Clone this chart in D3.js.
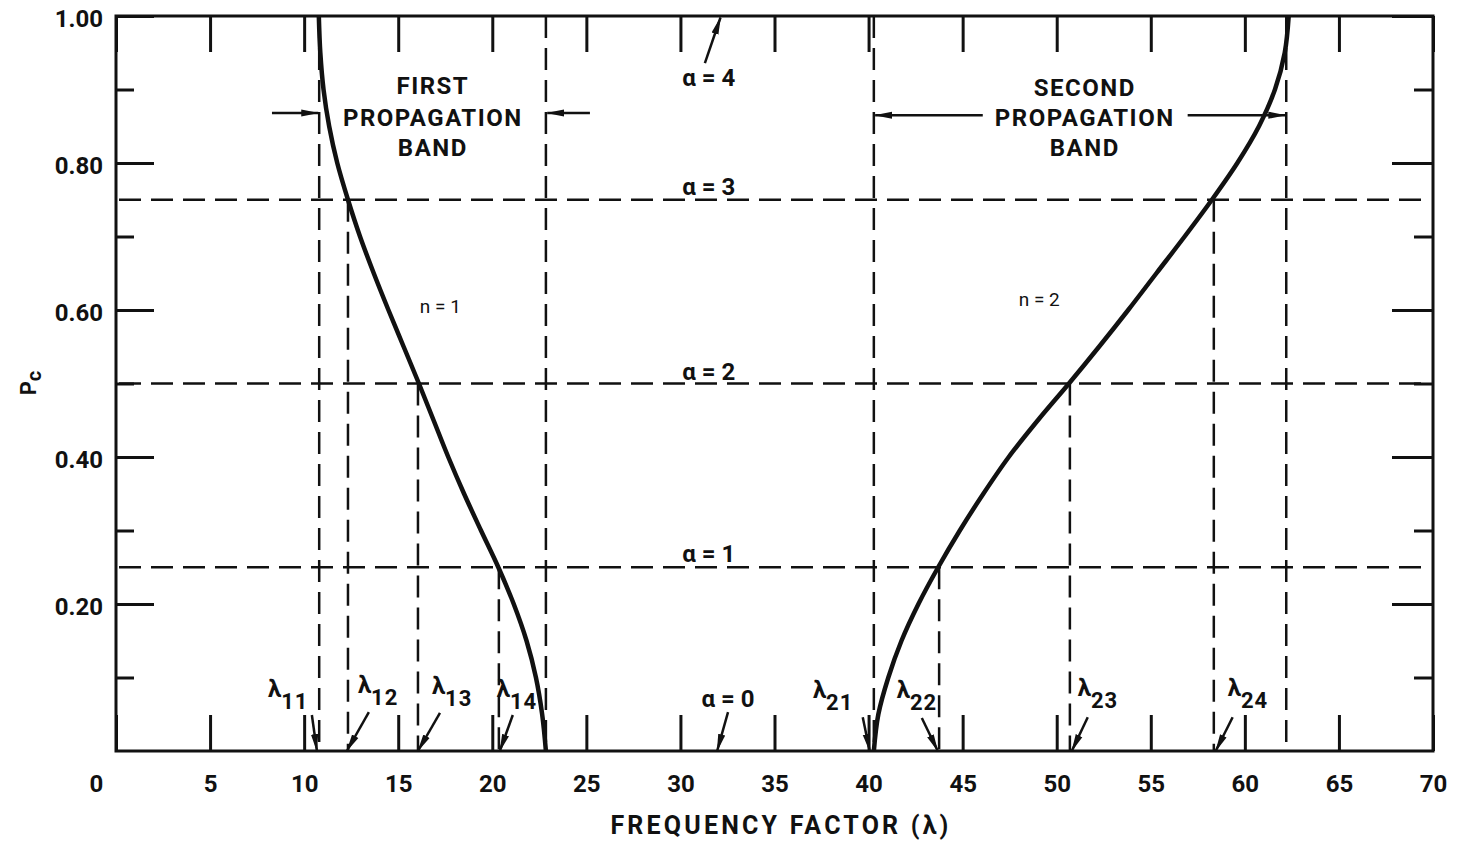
<!DOCTYPE html>
<html><head><meta charset="utf-8">
<script src="https://cdn.jsdelivr.net/npm/d3@7"></script>
<style>body{margin:0;background:#fff} svg{display:block}</style>
</head><body>
<svg id="chart" width="1461" height="843"></svg>
<script>
// ---------------- data ----------------
const xTickValues = [0,5,10,15,20,25,30,35,40,45,50,55,60,65,70];
const yMajorTicks = [0.2,0.4,0.6,0.8,1.0];
const yMinorTicks = [0.1,0.3,0.5,0.7,0.9];
const yTickLabels = ["0.20","0.40","0.60","0.80","1.00"];

const alphaLevels = [0.25,0.5,0.75];           // horizontal dashed lines
const alphaNames  = ["α = 0","α = 1","α = 2","α = 3","α = 4"];

const bandLambdas = [10.8,12.33,16.05,20.35,22.85,40.28,43.75,50.7,58.35,62.2];
const bandTops    = [1,0.75,0.5,0.25,1,1,0.25,0.5,0.75,1];

const n1Pc     = [1.00,0.95,0.90,0.85,0.80,0.75,0.70,0.65,0.60,0.55,0.50,0.45,0.40,0.35,0.30,0.25,0.20,0.15,0.10,0.05,0.00];
const n1Lambda = [10.78,10.86,11.03,11.33,11.76,12.33,12.97,13.7,14.48,15.29,16.1,16.88,17.66,18.5,19.4,20.32,21.14,21.82,22.32,22.65,22.85];

const n2Pc     = [0.00,0.05,0.10,0.15,0.20,0.25,0.30,0.35,0.40,0.45,0.50,0.55,0.60,0.65,0.70,0.75,0.80,0.85,0.90,0.95,1.00];
const n2Lambda = [40.28,40.52,41.05,41.75,42.65,43.7,44.85,46.1,47.45,49.0,50.65,52.25,53.8,55.3,56.8,58.25,59.6,60.75,61.6,62.12,62.33];

const lambdaSubs    = ["11","12","13","14","21","22","23","24"];
const lambdaTargets = [10.68,12.27,16.05,20.4,40.06,43.68,50.8,58.45];

// ---------------- layout ----------------
const svg = d3.select("#chart");
const x = d3.scaleLinear().domain([0,70]).range([116,1433]);
const y = d3.scaleLinear().domain([0,1]).range([751,16]);
const ink = "#111";
const FONT = "Roboto, 'DejaVu Sans', sans-serif";

const defs = svg.append("defs");
defs.append("marker").attr("id","ah").attr("markerUnits","userSpaceOnUse")
  .attr("viewBox","0 -5 18 10").attr("refX",17).attr("refY",0)
  .attr("markerWidth",18).attr("markerHeight",10).attr("orient","auto")
  .append("path").attr("d","M0,-3.6L18,0L0,3.6Z").attr("fill",ink);

// dashed grid lines
svg.append("g").selectAll("line").data(alphaLevels).join("line")
  .attr("x1",x(0)+3).attr("x2",x(70)-2)
  .attr("y1",d=>y(d)).attr("y2",d=>y(d))
  .attr("stroke",ink).attr("stroke-width",2.5).attr("stroke-dasharray","22,10");

svg.append("g").selectAll("line").data(bandLambdas).join("line")
  .attr("x1",d=>x(d)).attr("x2",d=>x(d))
  .attr("y1",(d,i)=>y(bandTops[i])).attr("y2",y(0))
  .attr("stroke",ink).attr("stroke-width",2.5).attr("stroke-dasharray","22,10");

// curves
const line = d3.line().x(d=>x(d[0])).y(d=>y(d[1])).curve(d3.curveMonotoneY);
svg.append("path").datum(n1Pc.map((p,i)=>[n1Lambda[i],p]).sort((a,b)=>a[1]-b[1]))
  .attr("d",line).attr("fill","none").attr("stroke",ink).attr("stroke-width",4.5);
svg.append("path").datum(n2Pc.map((p,i)=>[n2Lambda[i],p]))
  .attr("d",line).attr("fill","none").attr("stroke",ink).attr("stroke-width",4.5);

// axes
function styleAxis(g){
  g.select(".domain").remove();
  g.selectAll(".tick line").attr("stroke",ink).attr("stroke-width",3);
  g.selectAll("text").attr("fill",ink).attr("font-family",FONT).attr("font-weight",700).attr("font-size",24);
}
const gx = svg.append("g").attr("transform",`translate(0,${y(0)})`)
  .call(d3.axisBottom(x).tickValues(xTickValues).tickSizeInner(-36).tickSizeOuter(0).tickPadding(24).tickFormat(d3.format("d")))
  .call(styleAxis);
gx.selectAll(".tick text").filter(d=>d===0).attr("dx",-20);

svg.append("g").attr("transform",`translate(0,${y(1)})`)
  .call(d3.axisTop(x).tickValues(xTickValues).tickSizeInner(-36).tickSizeOuter(0).tickFormat(""))
  .call(styleAxis);

svg.append("g").attr("transform",`translate(${x(0)},0)`)
  .call(d3.axisLeft(y).tickValues(yMajorTicks).tickSizeInner(-38).tickSizeOuter(0).tickPadding(13)
    .tickFormat((d,i)=>yTickLabels[i]))
  .call(styleAxis)
  .selectAll(".tick text").attr("dy","0.42em");
svg.append("g").attr("transform",`translate(${x(0)},0)`)
  .call(d3.axisLeft(y).tickValues(yMinorTicks).tickSizeInner(-18).tickSizeOuter(0).tickFormat(""))
  .call(styleAxis);
svg.append("g").attr("transform",`translate(${x(70)},0)`)
  .call(d3.axisRight(y).tickValues(yMajorTicks).tickSizeInner(-41).tickSizeOuter(0).tickFormat(""))
  .call(styleAxis);
svg.append("g").attr("transform",`translate(${x(70)},0)`)
  .call(d3.axisRight(y).tickValues(yMinorTicks).tickSizeInner(-19).tickSizeOuter(0).tickFormat(""))
  .call(styleAxis);

// frame
svg.append("rect").attr("x",x(0)).attr("y",y(1)).attr("width",x(70)-x(0)).attr("height",y(0)-y(1))
  .attr("fill","none").attr("stroke",ink).attr("stroke-width",3);

// axis titles
svg.append("text").attr("x",781).attr("y",834).attr("text-anchor","middle")
  .attr("font-family",FONT).attr("font-weight",700).attr("font-size",25).attr("letter-spacing",3.2)
  .attr("fill",ink).text("FREQUENCY FACTOR (λ)");
const yt = svg.append("text").attr("transform","translate(36,383) rotate(-90)")
  .attr("text-anchor","middle").attr("font-family",FONT).attr("font-weight",700).attr("font-size",22).attr("fill",ink);
yt.append("tspan").text("P");
yt.append("tspan").attr("dy",5).attr("font-size",20).text("c");

// text helper
function label(lam,pc,txt,opts={}){
  return svg.append("text").attr("x",x(lam)).attr("y",y(pc))
    .attr("text-anchor",opts.anchor||"middle").attr("font-family",FONT)
    .attr("font-weight",opts.weight||700).attr("font-size",opts.size||24)
    .attr("letter-spacing",opts.ls||0).attr("fill",ink).text(txt);
}
function arrow(l1,p1,l2,p2,w=2.5){
  svg.append("line").attr("x1",x(l1)).attr("y1",y(p1)).attr("x2",x(l2)).attr("y2",y(p2))
    .attr("stroke",ink).attr("stroke-width",w).attr("marker-end","url(#ah)");
}

// band annotations
label(16.84,0.894,"FIRST",{ls:1.5});
label(16.84,0.850,"PROPAGATION",{ls:1.5});
label(16.84,0.809,"BAND",{ls:1.5});
arrow(8.29,0.868,10.75,0.868);
arrow(25.19,0.868,22.92,0.868);

label(51.49,0.891,"SECOND",{ls:1.5});
label(51.49,0.850,"PROPAGATION",{ls:1.5});
label(51.49,0.809,"BAND",{ls:1.5});
arrow(46.07,0.865,40.35,0.865);
arrow(56.96,0.865,62.15,0.865);

// alpha labels
label(32.53,0.060,alphaNames[0]);
label(31.51,0.257,alphaNames[1]);
label(31.51,0.505,alphaNames[2]);
label(31.51,0.756,alphaNames[3]);
label(31.51,0.905,alphaNames[4]);
arrow(31.3,0.936,32.13,0.998);
arrow(32.53,0.053,31.95,0.0);

// n labels
label(16.15,0.596,"n = 1",{anchor:"start",weight:400,size:19});
label(47.98,0.605,"n = 2",{anchor:"start",weight:400,size:19});

// lambda labels
const lamLabelX  = [8.08,12.86,16.79,20.24,37.04,41.5,51.12,59.09];
const lamLabelPc = [0.073,0.079,0.077,0.073,0.072,0.072,0.075,0.075];
const lamArrowL  = [10.41,13.44,17.22,21.09,39.69,42.83,51.65,59.35];
const lamArrowP  = [0.049,0.053,0.052,0.049,0.046,0.045,0.046,0.046];
lambdaSubs.forEach((s,i)=>{
  const t = label(lamLabelX[i],lamLabelPc[i],"",{anchor:"start",size:24});
  t.append("tspan").text("λ");
  t.append("tspan").attr("dy",12).attr("font-size",22).attr("letter-spacing",1).text(s);
  arrow(lamArrowL[i],lamArrowP[i],lambdaTargets[i],0,2.5);
});
</script>
</body></html>
